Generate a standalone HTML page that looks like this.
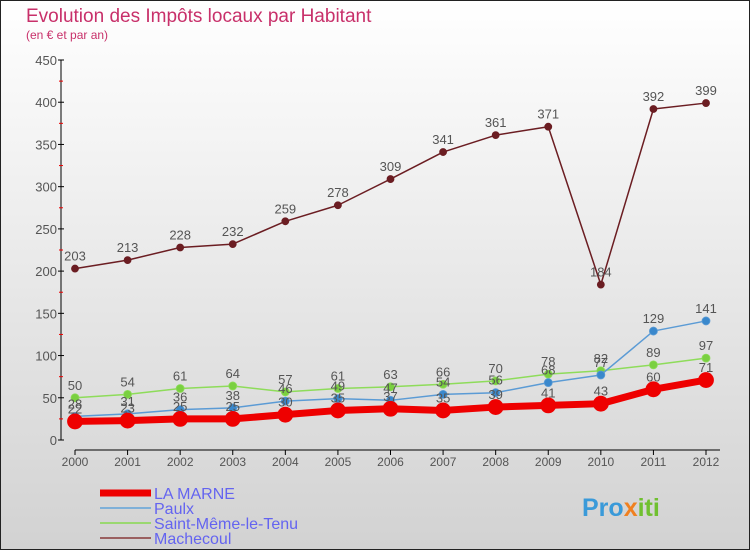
<!DOCTYPE html>
<html><head><meta charset="utf-8"><style>
body{margin:0}
#c{width:750px;height:550px;position:relative;overflow:hidden}
</style></head><body>
<div id="c">
<svg id="s" width="750" height="550" xmlns="http://www.w3.org/2000/svg" font-family="Liberation Sans, sans-serif">
<defs><linearGradient id="bg" x1="0" y1="0" x2="0" y2="1"><stop offset="0" stop-color="#ffffff"/><stop offset="1" stop-color="#d2d2d2"/></linearGradient></defs>
<rect x="0.5" y="0.5" width="749" height="549" fill="url(#bg)" stroke="#222"/>
<text x="26" y="22" font-size="19" fill="#c8306a">Evolution des Impôts locaux par Habitant</text>
<text x="26" y="39" font-size="12" fill="#c8306a">(en € et par an)</text>
<g id="axes"></g><g id="series"></g><g id="legend"></g>
<text x="582" y="516" font-size="25" font-weight="bold" fill="#3a9ad9">Pro<tspan fill="#f08020">x</tspan><tspan fill="#70c030">iti</tspan></text>
</svg>
</div>
<script>
const years=[2000,2001,2002,2003,2004,2005,2006,2007,2008,2009,2010,2011,2012];
const yTicks=[0,50,100,150,200,250,300,350,400,450];
const laMarne=[22,23,25,25,30,35,37,35,39,41,43,60,71];
const paulx=[28,31,36,38,46,49,47,54,56,68,77,129,141];
const saintMeme=[50,54,61,64,57,61,63,66,70,78,82,89,97];
const machecoul=[203,213,228,232,259,278,309,341,361,371,184,392,399];
const NS="http://www.w3.org/2000/svg";
function X(i){return 75+i*(631/12);}
function Y(v){return 440-v*380/450;}
function mk(t,a,p){const e=document.createElementNS(NS,t);for(const k in a)e.setAttribute(k,a[k]);p.appendChild(e);return e;}
const ax=document.getElementById('axes');
let yl=mk('line',{x1:61,y1:60,x2:61,y2:440,stroke:'#000'},ax);


yTicks.forEach(v=>{
 mk('line',{x1:58,y1:Y(v),x2:64,y2:Y(v),stroke:'#000'},ax);
 if(v<450)mk('line',{x1:59,y1:Y(v+25),x2:63,y2:Y(v+25),stroke:'#e00'},ax);
 const t=mk('text',{x:57,y:Y(v)+5,'font-size':13,'text-anchor':'end',fill:'#555'},ax);t.textContent=v;
 
 
});
let xl=mk('line',{x1:75,y1:450,x2:720,y2:450,stroke:'#000'},ax);


years.forEach((y,i)=>{
 mk('line',{x1:X(i),y1:450,x2:X(i),y2:455,stroke:'#000'},ax);
 const t=mk('text',{x:X(i),y:466,'font-size':12,'text-anchor':'middle',fill:'#555'},ax);t.textContent=y;
 
 
});
const sg=document.getElementById('series');
function series(data,color,dot,w,r,name){
 const g=mk('g',{},sg);
 
 
 mk('polyline',{points:data.map((v,i)=>X(i)+','+Y(v)).join(' '),fill:'none',stroke:color,'stroke-width':w,'stroke-linejoin':'round'},g);
 data.forEach((v,i)=>{
  const c=mk('circle',{cx:X(i),cy:Y(v),r:r,fill:dot,stroke:color,'stroke-width':0.8},g);
  
  
  const t=mk('text',{x:X(i),y:Y(v)-8,'font-size':13,'text-anchor':'middle',fill:'#555'},g);t.textContent=v;
  
  
 });
}
series(machecoul,'#6b1d22','#6b1d22',1.5,3.5,'machecoul-series');
series(saintMeme,'#8edc5a','#7ad040',1.5,4,'saint-meme-series');
series(paulx,'#5b9bd5','#3a88cc',1.5,4,'paulx-series');
series(laMarne,'#ee0000','#ee0000',7,7.5,'la-marne-series');
const lg=document.getElementById('legend');
const items=[['LA MARNE','#ee0000',7],['Paulx','#7fb0d8',2],['Saint-Même-le-Tenu','#9ad870',2],['Machecoul','#9a6060',2]];
items.forEach((it,i)=>{
 const y=493+i*15;
 const g=mk('g',{},lg);
 
 
 mk('line',{x1:100,y1:y,x2:151,y2:y,stroke:it[1],'stroke-width':it[2]},g);
 const t=mk('text',{x:154,y:y+6,'font-size':16,fill:'#6464f0'},g);t.textContent=it[0];
});
</script>
</body></html>
